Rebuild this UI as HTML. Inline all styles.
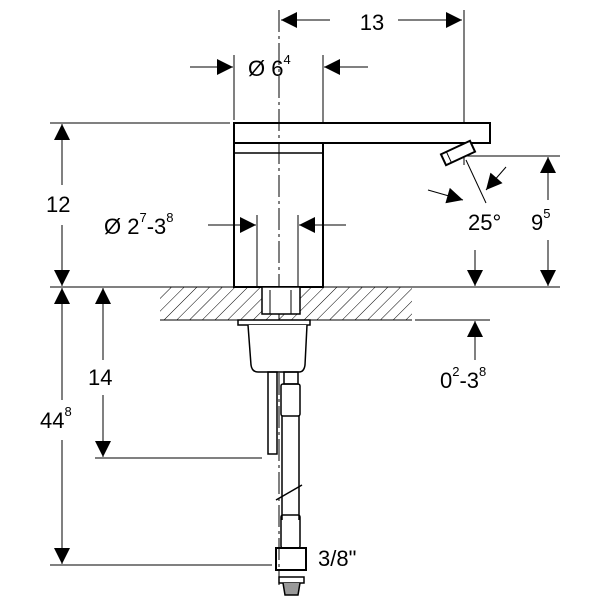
<!DOCTYPE html>
<html><head><style>
html,body{margin:0;padding:0;background:#fff;}
svg{display:block;}
text{font-family:"Liberation Sans",sans-serif;fill:#000;}
</style></head><body>
<svg width="600" height="600" viewBox="0 0 600 600" xmlns="http://www.w3.org/2000/svg">
<defs>
<pattern id="h" width="9" height="9" patternUnits="userSpaceOnUse" patternTransform="rotate(45)">
<line x1="0" y1="0" x2="0" y2="9" stroke="#000" stroke-width="1"/>
</pattern>
<marker id="a" viewBox="0 0 10 10" refX="10" refY="5" markerWidth="20" markerHeight="16" markerUnits="userSpaceOnUse" orient="auto">
<path d="M0,0 L10,5 L0,10 z" fill="#000"/>
</marker>
</defs>
<g stroke="#000" fill="none" stroke-width="1">
<line x1="464" y1="10" x2="464" y2="165"/>
<line x1="330" y1="20" x2="281" y2="20" marker-end="url(#a)"/>
<line x1="398" y1="20" x2="462" y2="20" marker-end="url(#a)"/>
<line x1="234" y1="55" x2="234" y2="120"/>
<line x1="323" y1="55" x2="323" y2="123"/>
<line x1="190" y1="67" x2="233" y2="67" marker-end="url(#a)"/>
<line x1="368" y1="67" x2="324" y2="67" marker-end="url(#a)"/>
<line x1="50" y1="123" x2="230" y2="123"/>
<line x1="62" y1="185" x2="62" y2="124" marker-end="url(#a)"/>
<line x1="62" y1="225" x2="62" y2="286" marker-end="url(#a)"/>
<line x1="50" y1="287" x2="560" y2="287"/>
<line x1="415" y1="320" x2="490" y2="320"/>
<rect x="160" y="287" width="252" height="33" fill="url(#h)" stroke="none"/>
<line x1="160" y1="320" x2="412" y2="320"/>
<rect x="234" y="123" width="256" height="20" stroke-width="2" fill="#fff"/>
<rect x="234" y="143" width="89" height="144" stroke-width="2" fill="none"/>
<line x1="234" y1="153" x2="323" y2="153" stroke-width="1.5"/>
<g transform="translate(458,153) rotate(-25)">
<rect x="-16" y="-6" width="32" height="12" stroke-width="2" fill="#fff"/>
<line x1="-10" y1="-6" x2="-10" y2="6"/>
</g>
<line x1="279" y1="10" x2="279" y2="585" stroke-dasharray="22,4,3,4"/>
<line x1="257" y1="215" x2="257" y2="287"/>
<line x1="298" y1="215" x2="298" y2="287"/>
<line x1="208" y1="225" x2="256" y2="225" marker-end="url(#a)"/>
<line x1="346" y1="225" x2="299" y2="225" marker-end="url(#a)"/>
<line x1="466" y1="160" x2="486" y2="203"/>
<line x1="428" y1="190" x2="463" y2="200" marker-end="url(#a)"/>
<line x1="506" y1="167" x2="486" y2="190" marker-end="url(#a)"/>
<line x1="465" y1="156" x2="560" y2="156"/>
<line x1="548" y1="200" x2="548" y2="157" marker-end="url(#a)"/>
<line x1="548" y1="240" x2="548" y2="286" marker-end="url(#a)"/>
<line x1="475" y1="250" x2="475" y2="286" marker-end="url(#a)"/>
<line x1="475" y1="360" x2="475" y2="321" marker-end="url(#a)"/>
<line x1="62" y1="400" x2="62" y2="288" marker-end="url(#a)"/>
<line x1="62" y1="440" x2="62" y2="564" marker-end="url(#a)"/>
<line x1="50" y1="565" x2="272" y2="565"/>
<line x1="103" y1="360" x2="103" y2="288" marker-end="url(#a)"/>
<line x1="103" y1="395" x2="103" y2="457" marker-end="url(#a)"/>
<line x1="95" y1="458" x2="262" y2="458"/>
<rect x="262" y="287" width="38" height="27" stroke-width="1.5" fill="#fff"/>
<line x1="270" y1="290" x2="270" y2="314"/><line x1="291" y1="290" x2="291" y2="314"/>
<rect x="238" y="320" width="72" height="5" stroke-width="1.5" fill="#fff"/>
<path d="M248,325 L251,365 Q252,372 258,372 L299,372 Q304,372 305,365 L307,325" stroke-width="1.5" fill="#fff"/>
<rect x="268" y="372" width="9" height="82" stroke-width="1.5"/>
<rect x="284" y="372" width="14" height="12" stroke-width="1.5"/>
<rect x="281" y="384" width="19" height="32" stroke-width="1.5" rx="2"/>
<line x1="282" y1="416" x2="282" y2="520" stroke-width="1.5"/>
<line x1="299" y1="416" x2="299" y2="520" stroke-width="1.5"/>
<line x1="276" y1="500" x2="302" y2="485" stroke-width="1.5"/>
<rect x="281" y="515" width="19" height="33" stroke-width="1.5" rx="2"/>
<rect x="276" y="548" width="30" height="22" stroke-width="2"/>
<rect x="279" y="577" width="25" height="6" stroke-width="1.5"/>
<path d="M283,583 L285,595 L298,595 L300,583" stroke-width="1.5" fill="#999"/>
</g>
<text x="372" y="30" font-size="22" text-anchor="middle">13</text>
<text x="248" y="76" font-size="22">Ø 6<tspan font-size="13" dy="-12">4</tspan></text>
<text x="46" y="212" font-size="22">12</text>
<text x="104" y="234" font-size="22">Ø 2<tspan font-size="13" dy="-12">7</tspan><tspan dy="12">-3</tspan><tspan font-size="13" dy="-12">8</tspan></text>
<text x="468" y="230" font-size="22">25°</text>
<text x="531" y="230" font-size="22">9<tspan font-size="13" dy="-12">5</tspan></text>
<text x="440" y="388" font-size="22">0<tspan font-size="13" dy="-12">2</tspan><tspan dy="12">-3</tspan><tspan font-size="13" dy="-12">8</tspan></text>
<text x="88" y="385" font-size="22">14</text>
<text x="40" y="428" font-size="22">44<tspan font-size="13" dy="-12">8</tspan></text>
<text x="318" y="566" font-size="22">3/8"</text>
</svg>
</body></html>
